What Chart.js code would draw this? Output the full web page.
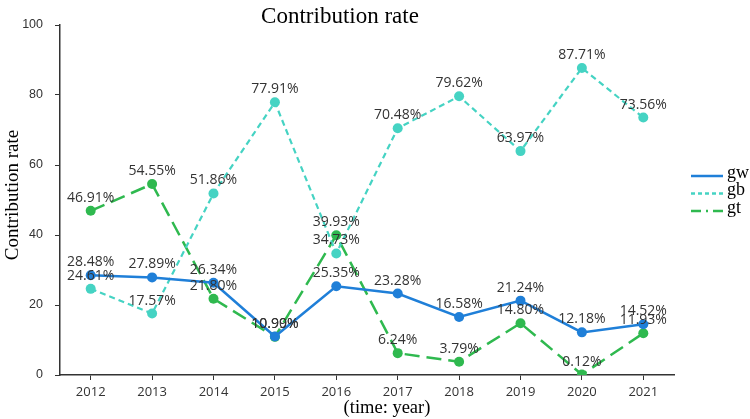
<!DOCTYPE html>
<html><head><meta charset="utf-8">
<script src="https://cdn.jsdelivr.net/npm/chart.js@4.4.0/dist/chart.umd.min.js"></script>
<style>html,body{margin:0;padding:0;background:#fff}#wrap{width:750px;height:419px;position:relative}</style>
</head><body><div id="wrap"><canvas id="c" width="750" height="419"></canvas></div>
<script>
const years = ['2012','2013','2014','2015','2016','2017','2018','2019','2020','2021'];
const gw = [28.48, 27.89, 26.34, 10.99, 25.35, 23.28, 16.58, 21.24, 12.18, 14.52];
const gb = [24.61, 17.57, 51.86, 77.91, 34.73, 70.48, 79.62, 63.97, 87.71, 73.56];
const gt = [46.91, 54.55, 21.80, 10.90, 39.93, 6.24, 3.79, 14.80, 0.12, 11.93];
const yTicks = [0, 20, 40, 60, 80, 100];

const C_GW = '#1f7fd8', C_GB = '#45d3c3', C_GT = '#2fb94f';
const serif = '"Liberation Serif", "DejaVu Serif", serif';
const sans = '"Open Sans", "Noto Sans", sans-serif';

const labelsPlugin = {
  id: 'extras',
  afterDatasetsDraw(chart) {
    const ctx = chart.ctx;
    ctx.save();
    ctx.font = '14px ' + sans;
    ctx.fillStyle = '#333';
    ctx.textAlign = 'center';
    ctx.textBaseline = 'alphabetic';
    chart.data.datasets.forEach((ds, i) => {
      const meta = chart.getDatasetMeta(i);
      meta.data.forEach((pt, j) => {
        ctx.fillText(ds.data[j].toFixed(2) + '%', pt.x, pt.y - 9);
      });
    });
    // title
    ctx.fillStyle = '#000';
    ctx.font = '23px ' + serif;
    ctx.fillText('Contribution rate', 340, 23);
    // x title
    ctx.font = '18.5px ' + serif;
    ctx.fillText('(time: year)', 387, 413);
    // y title
    ctx.save();
    ctx.translate(18, 195);
    ctx.rotate(-Math.PI / 2);
    ctx.font = '19px ' + serif;
    ctx.fillText('Contribution rate', 0, 0);
    ctx.restore();
    // legend
    const items = [['gw', C_GW, []], ['gb', C_GB, [4, 3]], ['gt', C_GT, [10, 5, 2, 5]]];
    ctx.textAlign = 'left';
    ctx.textBaseline = 'middle';
    ctx.font = '18px ' + serif;
    items.forEach((it, k) => {
      const y = 175 + k * 17.5;
      ctx.strokeStyle = it[1];
      ctx.lineWidth = 2.5;
      ctx.setLineDash(it[2]);
      ctx.beginPath(); ctx.moveTo(691, y + 1); ctx.lineTo(723, y + 1); ctx.stroke();
      ctx.setLineDash([]);
      ctx.fillStyle = '#000';
      ctx.fillText(it[0], 727, y - 2);
    });
    ctx.restore();
  }
};

new Chart(document.getElementById('c'), {
  type: 'line',
  data: {
    labels: years,
    datasets: [
      { label: 'gw', data: gw, borderColor: C_GW, backgroundColor: C_GW, borderWidth: 2.5, pointRadius: 5, pointBackgroundColor: C_GW, pointBorderWidth: 0, tension: 0 },
      { label: 'gb', data: gb, borderColor: C_GB, backgroundColor: C_GB, borderWidth: 2.2, borderDash: [6, 4], pointRadius: 5, pointBackgroundColor: C_GB, pointBorderWidth: 0, tension: 0 },
      { label: 'gt', data: gt, borderColor: C_GT, backgroundColor: C_GT, borderWidth: 2.5, borderDash: [15, 7], pointRadius: 5, pointBackgroundColor: C_GT, pointBorderWidth: 0, tension: 0 }
    ]
  },
  options: {
    responsive: false,
    animation: false,
    layout: { padding: { left: 0, right: 76, top: 25, bottom: 0 } },
    plugins: { legend: { display: false }, title: { display: false }, tooltip: { enabled: false } },
    scales: {
      x: {
        offset: true,
        grid: { display: true, drawOnChartArea: false, drawTicks: true, tickLength: 5, color: '#333', offset: false },
        border: { display: true, color: '#333', width: 1.5 },
        ticks: { color: '#333', font: { family: sans, size: 13 }, padding: 4, maxRotation: 0 },
        afterFit(s) { s.height = 44; }
      },
      y: {
        min: 0, max: 100,
        afterBuildTicks(s) { s.ticks = yTicks.map(v => ({ value: v })); },
        grid: { display: true, drawOnChartArea: false, drawTicks: true, tickLength: 5, color: '#333' },
        border: { display: true, color: '#333', width: 1.5 },
        ticks: { color: '#333', font: { family: '"Liberation Sans Narrow", "Liberation Sans", sans-serif', size: 12.5 }, padding: 12 },
        afterFit(s) { s.width = 60; }
      }
    }
  },
  plugins: [labelsPlugin]
});
</script></body></html>
